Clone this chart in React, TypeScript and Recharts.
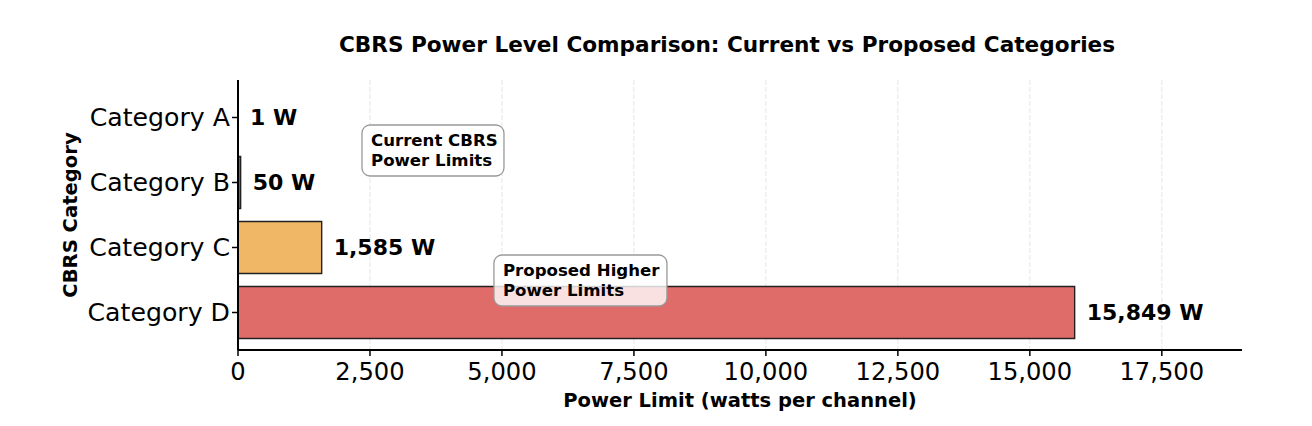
import React from "react";
import { BarChart, Bar, XAxis, YAxis, CartesianGrid, Cell, LabelList, ReferenceDot } from "recharts";

const categories = ["Category A", "Category B", "Category C", "Category D"];
const powerWatts = [1, 50, 1585, 15849];
const barColors = ["#4a8fc4", "#3d8a3d", "#f0b866", "#e06c69"];
const xTicks = [0, 2500, 5000, 7500, 10000, 12500, 15000, 17500];
const noteTexts = [["Current CBRS", "Power Limits"], ["Proposed Higher", "Power Limits"]];
const noteX = [2500, 5000];
const noteCategory = ["Category A", "Category C"];

const FONT = "'DejaVu Sans', Verdana, sans-serif";
const W = 1312;
const H = 426;

const data = categories.map((c, i) => ({ category: c, watts: powerWatts[i], color: barColors[i] }));
const fmt = (v: number) => v.toLocaleString("en-US");

function ValueLabel(props: any) {
  const { x, y, width, height, value } = props;
  return (
    <text
      x={x + width + 12}
      y={y + height / 2}
      dy="0.36em"
      fontFamily={FONT}
      fontWeight="bold"
      fontSize={22}
      fill="#000"
    >
      {fmt(value)} W
    </text>
  );
}

const noteWidths = [142, 173];

function makeNote(i: number) {
  return (p: any) => {
    const left = p.cx - 8;
    const mid = p.cy + 32.5;
    return (
      <g>
        <rect
          x={left}
          y={mid - 25}
          width={noteWidths[i]}
          height={51}
          rx={8}
          fill="#fff"
          fillOpacity={i === 0 ? 1 : 0.8}
          stroke="#999"
          strokeWidth={1.3}
        />
        {noteTexts[i].map((t, j) => (
          <text
            key={j}
            x={p.cx + 1}
            y={mid - 9.5 + j * 20}
            dy="0.36em"
            fontFamily={FONT}
            fontWeight="bold"
            fontSize={16.6}
            fill="#000"
          >
            {t}
          </text>
        ))}
      </g>
    );
  };
}

export default function App() {
  return (
    <div style={{ position: "relative", width: W, height: H, background: "#fff" }}>
      <style>{`body{margin:0}`}</style>
      <div
        style={{
          position: "absolute",
          left: 0,
          top: 32,
          width: 1454,
          textAlign: "center",
          fontFamily: FONT,
          fontWeight: "bold",
          fontSize: 21.6,
          lineHeight: "26px",
          color: "#000",
        }}
      >
        CBRS Power Level Comparison: Current vs Proposed Categories
      </div>
      <BarChart
        width={W}
        height={H}
        data={data}
        layout="vertical"
        margin={{ top: 80, right: 70, bottom: 0, left: 0 }}
        barCategoryGap="10%"
      >
        <CartesianGrid horizontal={false} syncWithTicks strokeDasharray="5 2" stroke="#e6e6e6" strokeWidth={1} />
        <XAxis
          type="number"
          domain={[0, 19019]}
          ticks={xTicks}
          tickFormatter={fmt}
          height={76}
          tickSize={6}
          tickMargin={7}
          axisLine={{ stroke: "#000", strokeWidth: 2 }}
          tickLine={{ stroke: "#000", strokeWidth: 1.5 }}
          tick={{ fill: "#000", fontSize: 24.2, fontFamily: FONT }}
          label={{
            content: () => (
              <text x={740} y={400} dy="0.36em" textAnchor="middle" fontFamily={FONT} fontWeight="bold" fontSize={19.5} fill="#000">
                Power Limit (watts per channel)
              </text>
            ),
          }}
        />
        <YAxis
          type="category"
          dataKey="category"
          width={238}
          padding={{ top: 5, bottom: 5 }}
          tickSize={6}
          tickMargin={2}
          axisLine={{ stroke: "#000", strokeWidth: 2 }}
          tickLine={{ stroke: "#000", strokeWidth: 1.5 }}
          tick={{ fill: "#000", fontSize: 25.2, fontFamily: FONT }}
          label={{
            content: () => (
              <text
                x={70}
                y={215}
                dy="0.36em"
                textAnchor="middle"
                transform="rotate(-90 70 215)"
                fontFamily={FONT}
                fontWeight="bold"
                fontSize={19.6}
                fill="#000"
              >
                CBRS Category
              </text>
            ),
          }}
        />
        <Bar dataKey="watts" stroke="#222" strokeWidth={1.4} isAnimationActive={false}>
          {data.map((d, i) => (
            <Cell key={i} fill={d.color} />
          ))}
          <LabelList dataKey="watts" content={ValueLabel} />
        </Bar>
        {noteX.map((x, i) => (
          <ReferenceDot key={i} x={x} y={noteCategory[i]} r={0} shape={makeNote(i)} />
        ))}
      </BarChart>
    </div>
  );
}
